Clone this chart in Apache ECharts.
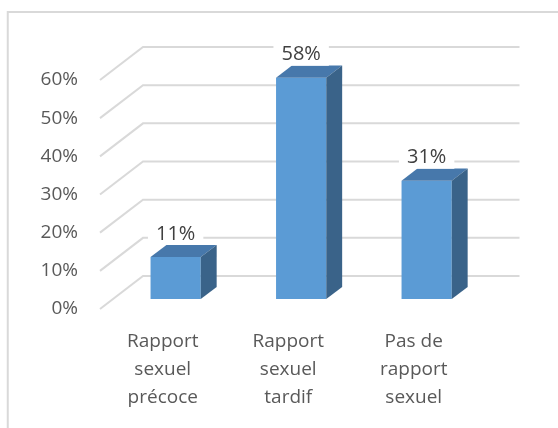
<!DOCTYPE html>
<html>
<head>
<meta charset="utf-8">
<script src="https://cdn.jsdelivr.net/npm/echarts@6/dist/echarts.min.js"></script>
<style>
html,body{margin:0;padding:0;background:#fff;}
#c{width:558px;height:428px;}
</style>
</head>
<body>
<div id="c"></div>
<script>
const categories = ['Rapport\nsexuel\nprécoce', 'Rapport\nsexuel\ntardif', 'Pas de\nrapport\nsexuel'];
const values = [11, 58, 31];
const yTicks = [0, 10, 20, 30, 40, 50, 60];

const FONT = '"Open Sans", "Noto Sans", sans-serif';
const DEPTH = [43, -33];
const F1 = 0.3, F2 = 0.67;

const chart = echarts.init(document.getElementById('c'), null, {renderer: 'canvas'});

function gridRender(params, api) {
  const cs = params.coordSys;
  const y = api.coord([0, api.value(1)])[1];
  return {
    type: 'polyline',
    shape: {points: [[cs.x, y], [cs.x + DEPTH[0], y + DEPTH[1]], [cs.x + cs.width + DEPTH[0], y + DEPTH[1]]]},
    style: {stroke: '#d9d9d9', lineWidth: 2, fill: null}
  };
}

function barRender(params, api) {
  const idx = api.value(0);
  const v = api.value(1);
  const c0 = api.coord([idx, 0]);
  const c1 = api.coord([idx, v]);
  const band = api.size([1, 0])[0];
  const w = band * 0.4;
  const xL = c0[0] - w / 2 + DEPTH[0] * F1;
  const xR = xL + w;
  const yB = c0[1] + DEPTH[1] * F1;
  const yT = c1[1] + DEPTH[1] * F1;
  const ddx = DEPTH[0] * (F2 - F1), ddy = DEPTH[1] * (F2 - F1);
  return {
    type: 'group',
    children: [
      {type: 'rect', shape: {x: xL, y: yT, width: w, height: yB - yT}, style: {fill: '#5b9bd5'}},
      {type: 'polygon', shape: {points: [[xL, yT], [xR, yT], [xR + ddx, yT + ddy], [xL + ddx, yT + ddy]]}, style: {fill: '#4778ab'}},
      {type: 'polygon', shape: {points: [[xR, yT], [xR + ddx, yT + ddy], [xR + ddx, yB + ddy], [xR, yB]]}, style: {fill: '#3a6389'}},
      {type: 'text', style: {
        text: v + '%', x: (xL + xR) / 2, y: yT - 23, align: 'center', verticalAlign: 'middle',
        fill: '#404040', font: '20px ' + FONT, backgroundColor: '#fff', padding: [0, 8], lineHeight: 22
      }}
    ]
  };
}

chart.setOption({
  animation: false,
  backgroundColor: '#fff',
  graphic: [{
    type: 'rect', shape: {x: 7.75, y: 12, width: 700, height: 600},
    style: {fill: null, stroke: '#d9d9d9', lineWidth: 2}, silent: true
  }],
  grid: {left: 100, top: 80, width: 376.5, height: 229, containLabel: false},
  xAxis: {
    type: 'category', data: categories,
    axisLine: {show: false}, axisTick: {show: false}, splitLine: {show: false},
    axisLabel: {margin: 19, color: '#595959', fontSize: 19, fontFamily: FONT, lineHeight: 28, interval: 0}
  },
  yAxis: {
    type: 'value', min: 0, max: 60, interval: 10,
    axisLine: {show: false}, axisTick: {show: false}, splitLine: {show: false},
    axisLabel: {margin: 22, color: '#595959', fontSize: 19, fontFamily: FONT, formatter: '{value}%', padding: [6, 0, 0, 0]}
  },
  series: [
    {type: 'custom', renderItem: gridRender, data: yTicks.map(t => [0, t]), z: 1, silent: true},
    {type: 'custom', renderItem: barRender, data: values.map((v, i) => [i, v]), z: 2, silent: true}
  ]
});
</script>
</body>
</html>
